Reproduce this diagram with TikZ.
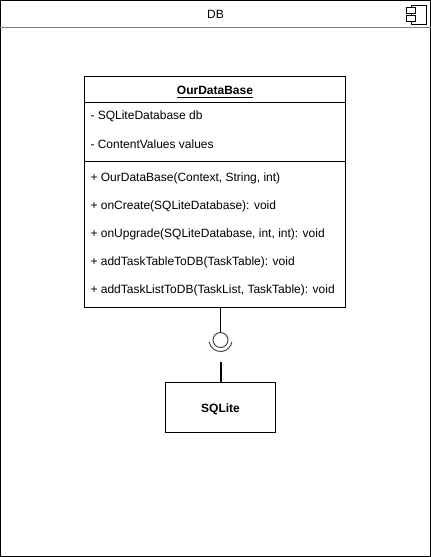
\documentclass[tikz,border=0pt]{standalone}
\usepackage{fontspec}
\setmainfont{Liberation Sans}
\usetikzlibrary{positioning}

\begin{document}
\begin{tikzpicture}[x=0.75pt,y=-0.75pt,line width=0.75pt,
	every node/.style={font=\fontsize{9}{11}\selectfont},
	box/.style={draw,rectangle,inner sep=0pt,minimum width=195.75pt},
	member/.style={inner sep=0pt,anchor=west},
	tab/.style={draw,fill=white,rectangle,inner sep=0pt,minimum width=6.75pt,minimum height=4.5pt}]
	\useasboundingbox (0,0) rectangle (431,557);
	\node[draw,rectangle,inner sep=0pt,minimum width=322.5pt,minimum height=417pt] (frame) at (215.5,278.5) {};
	\node[inner sep=0pt,minimum width=322.5pt,minimum height=20pt] (header) at (215.5,14) {DB};
	\draw[black!50] (header.south west) -- (header.south east);
	% component icon
	\node[draw,rectangle,inner sep=0pt,minimum width=11.25pt,minimum height=14.25pt] (icon) at (418.5,14.5) {};
	\node[tab] (tab1) at (410.5,10) {};
	\node[tab] (tab2) at (410.5,18.5) {};
	% class
	\node[box,minimum height=19.5pt,text height=9pt,text depth=1pt] (classname) at (215,89.5) {\textbf{\underline{OurDataBase}}};
	\node[box,minimum height=44.25pt,below=-0.75pt of classname] (attrs) {};
	\node[box,minimum height=109.5pt,below=-0.75pt of attrs] (methods) {};
	\node[member] (m1) at (90,116.5) {- SQLiteDatabase db};
	\node[member] (m2) at (90,144) {- ContentValues values};
	\node[member] (m3) at (90,178.5) {+ OurDataBase(Context, String, int)};
	\node[member] (m4) at (90,206.5) {+ onCreate(SQLiteDatabase): void};
	\node[member] (m5) at (90,234.5) {+ onUpgrade(SQLiteDatabase, int, int): void};
	\node[member] (m6) at (90,262.5) {+ addTaskTableToDB(TaskTable): void};
	\node[member] (m7) at (90,290.5) {+ addTaskListToDB(TaskList, TaskTable): void};
	% interface
	\node[draw=black!70,circle,inner sep=0pt,minimum size=11.25pt] (iface) at (220.5,340) {};
	\draw (methods.south -| iface) to (iface);
	\draw[black!70] (iface.center) ++(170:11.5) arc[start angle=170,end angle=10,radius=11.5];
	% sqlite
	\node[draw,rectangle,inner sep=0pt,minimum width=82.5pt,minimum height=37.5pt,text height=9pt,text depth=1pt] (sqlite) at (220.5,407.5) {\textbf{SQLite}};
	\coordinate (socket) at (220.5,362);
	\draw[line width=1.5pt] (socket) to (sqlite.north);
\end{tikzpicture}
\end{document}
